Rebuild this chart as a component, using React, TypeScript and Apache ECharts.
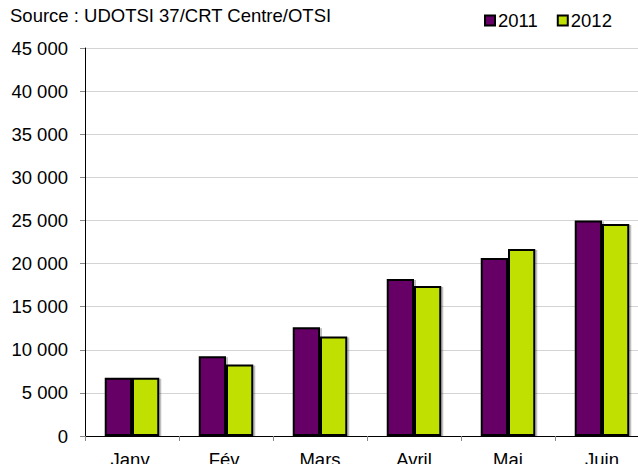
import React, { useEffect, useRef } from "react";
import * as echarts from "echarts";

const categories = ["Janv.", "Fév.", "Mars", "Avril", "Mai", "Juin"];
const values2011 = [6750, 9250, 12600, 18200, 20650, 25000];
const values2012 = [6750, 8300, 11550, 17400, 21700, 24600];
const seriesNames = ["2011", "2012"];
const sourceText = "Source : UDOTSI 37/CRT Centre/OTSI";

const FONT = "'Liberation Sans', Arial, sans-serif";

function fmt(v: number): string {
  return String(v).replace(/\B(?=(\d{3})+(?!\d))/g, " ");
}

export default function App() {
  const ref = useRef<HTMLDivElement>(null);
  useEffect(() => {
    if (!ref.current) return;
    const chart = echarts.init(ref.current, undefined, { renderer: "svg" });
    const barStyle = (color: string) => ({
      color,
      borderColor: "#000",
      borderWidth: 2,
      shadowColor: "rgba(0,0,0,0.25)",
      shadowOffsetX: 2,
      shadowOffsetY: 1,
      shadowBlur: 1,
    });
    chart.setOption({
      animation: false,
      backgroundColor: "#fff",
      textStyle: { fontFamily: FONT },
      graphic: [
        {
          type: "text",
          left: 10,
          top: 6,
          style: { text: sourceText, fontSize: 18.5, fontFamily: FONT, fill: "#000" },
        },
      ],
      legend: {
        left: 479,
        top: 6,
        itemWidth: 10,
        itemHeight: 10,
        itemGap: 19,
        icon: "rect",
        textStyle: { fontSize: 18.5, fontFamily: FONT, color: "#000", padding: [0, 0, 0, -2] },
        data: seriesNames,
      },
      grid: {
        left: 85,
        right: -11,
        top: 48,
        bottom: 28,
        containLabel: false,
        outerBoundsMode: "none",
      },
      xAxis: {
        type: "category",
        data: categories,
        axisLine: { lineStyle: { color: "#000", width: 1 } },
        axisTick: { show: true, alignWithLabel: false, length: 5, lineStyle: { color: "#888" } },
        axisLabel: { fontSize: 18.5, fontFamily: FONT, color: "#000", margin: 14 },
      },
      yAxis: {
        type: "value",
        min: 0,
        max: 45000,
        interval: 5000,
        axisLine: { show: true, lineStyle: { color: "#000", width: 1 } },
        axisTick: { show: true, length: 5, lineStyle: { color: "#888" } },
        splitLine: { lineStyle: { color: "#d4d4d4", width: 1 } },
        axisLabel: {
          fontSize: 18.5,
          fontFamily: FONT,
          color: "#000",
          margin: 17,
          formatter: (v: number) => fmt(v),
        },
      },
      series: [
        {
          name: seriesNames[0],
          type: "bar",
          data: values2011,
          barGap: "0%",
          barCategoryGap: "42%",
          itemStyle: barStyle("#660066"),
        },
        {
          name: seriesNames[1],
          type: "bar",
          data: values2012,
          barGap: "0%",
          barCategoryGap: "42%",
          itemStyle: barStyle("#bfe000"),
        },
      ],
    });
    return () => chart.dispose();
  }, []);
  return <div ref={ref} style={{ width: 638, height: 464, position: "absolute", left: 0, top: 0 }} />;
}
